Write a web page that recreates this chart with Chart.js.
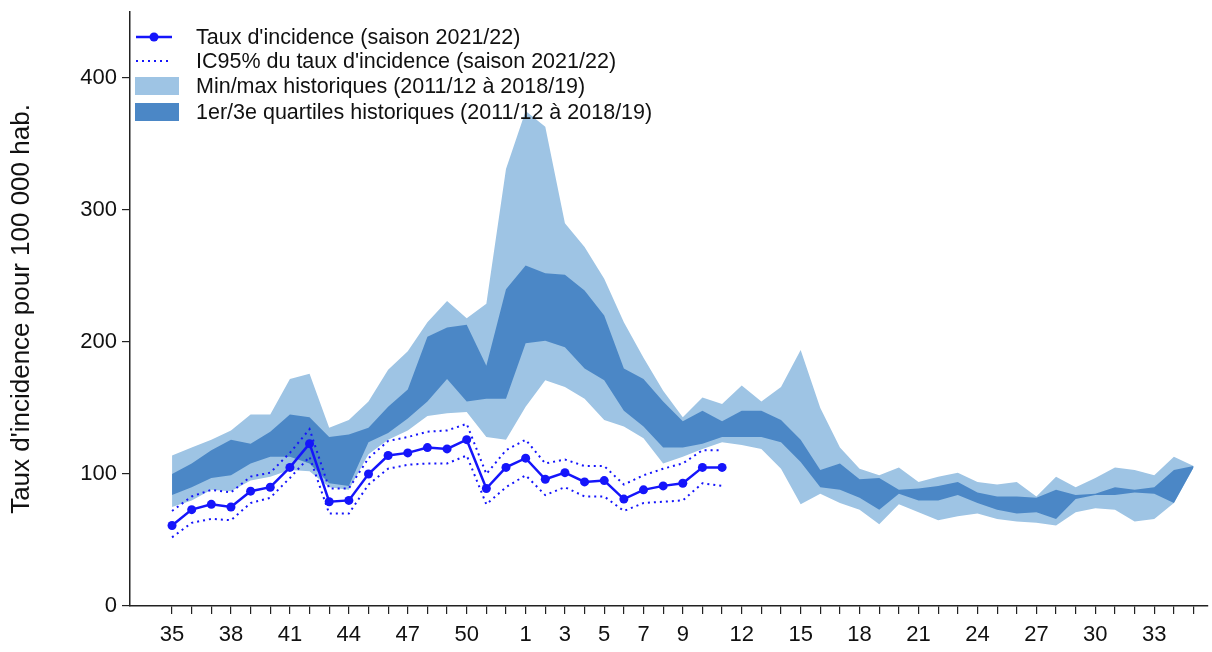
<!DOCTYPE html>
<html lang="fr">
<head>
<meta charset="utf-8">
<title>Taux d'incidence</title>
<script src="https://cdn.jsdelivr.net/npm/chart.js@4.4.1/dist/chart.umd.min.js"></script>
<style>
    html, body { margin: 0; padding: 0; background: #fff; }
    #wrap { width: 1212px; height: 652px; }
</style>
</head>
<body>
<div id="wrap"><canvas id="myChart" width="1212" height="652"></canvas></div>
<script>
// semaines de la saison (35 -> 35)
var weeks = [35, 36, 37, 38, 39, 40, 41, 42, 43, 44, 45, 46, 47, 48, 49, 50, 51, 52,
    1, 2, 3, 4, 5, 6, 7, 8, 9, 10, 11, 12, 13, 14, 15, 16, 17, 18, 19, 20, 21, 22,
    23, 24, 25, 26, 27, 28, 29, 30, 31, 32, 33, 34, 35];
var tickWeeks = [35, 38, 41, 44, 47, 50, 1, 3, 5, 7, 9, 12, 15, 18, 21, 24, 27, 30, 33];
var yTicks = [0, 100, 200, 300, 400];

// saison 2021/22 (semaines 35 a 11)
var incidence = [61, 73, 77, 75, 87, 90, 105, 123, 79, 80, 100, 114, 116, 120, 119, 126, 89, 105,
    112, 96, 101, 94, 95, 81, 88, 91, 93, 105, 105];
var ic95High = [72, 83, 88, 86, 98, 101, 116, 134, 89, 89, 112, 125, 128, 132, 133, 138, 100, 118,
    126, 108, 111, 106, 106, 92, 99, 104, 108, 118, 118];
var ic95Low = [52, 63, 66, 65, 78, 82, 97, 113, 70, 70, 92, 104, 107, 108, 108, 114, 77, 90,
    99, 84, 90, 83, 83, 72, 78, 79, 80, 93, 91];

// historiques 2011/12 a 2018/19
var histMin = [75, 80, 88, 87, 95, 98, 103, 102, 90, 88, 115, 126, 133, 144, 146, 147, 128, 126,
    151, 171, 166, 157, 141, 136, 127, 108, 113, 119, 124, 122, 119, 104, 77, 85, 78, 73, 62, 77,
    71, 65, 68, 70, 66, 64, 63, 61, 71, 74, 73, 64, 66, 78, 105];
var histMax = [114, 120, 126, 133, 145, 145, 172, 176, 135, 141, 155, 179, 193, 215, 231, 218, 229, 331,
    375, 363, 290, 272, 248, 215, 188, 163, 143, 158, 153, 167, 155, 166, 194, 150, 120, 104, 99, 105,
    94, 98, 101, 94, 92, 94, 83, 98, 90, 97, 105, 103, 99, 113, 106];
var histQ1 = [84, 90, 97, 99, 108, 113, 113, 108, 93, 91, 124, 131, 142, 155, 172, 155, 157, 157,
    199, 201, 196, 180, 171, 148, 136, 120, 120, 123, 128, 128, 128, 124, 109, 90, 88, 82, 73, 85,
    80, 80, 84, 78, 73, 70, 71, 66, 81, 84, 84, 86, 85, 78, 105];
var histQ3 = [100, 108, 118, 126, 123, 132, 145, 143, 128, 130, 135, 151, 164, 204, 211, 213, 182, 240,
    258, 252, 251, 239, 220, 180, 172, 155, 140, 148, 140, 148, 148, 141, 126, 103, 108, 96, 97, 88,
    89, 91, 94, 86, 83, 83, 82, 88, 84, 85, 90, 88, 90, 103, 106];

var legendLabels = [
    "Taux d'incidence (saison 2021/22)",
    "IC95% du taux d'incidence (saison 2021/22)",
    "Min/max historiques (2011/12 à 2018/19)",
    "1er/3e quartiles historiques (2011/12 à 2018/19)"
];

var FONT = "'Liberation Sans', Arial, Helvetica, sans-serif";
var lineBlue = '#1515fb';
var lightBand = '#9ec4e4';
var darkBand = '#4b87c6';

function toPoints(arr) {
    return arr.map(function (v, i) { return { x: i, y: v }; });
}

// index des semaines etiquetees sur l'axe
var labelIdx = [];
var from = 0;
tickWeeks.forEach(function (w) {
    var k = weeks.indexOf(w, from);
    labelIdx.push(k);
    from = k + 1;
});

// legende dessinee en haut a gauche
var legendPlugin = {
    id: 'customLegend',
    afterDraw: function (chart) {
        var ctx = chart.ctx;
        var rows = [37, 61, 86, 112];
        ctx.save();
        ctx.font = '21.5px ' + FONT;
        ctx.textBaseline = 'middle';
        legendLabels.forEach(function (txt, i) {
            var y = rows[i];
            if (i === 0) {
                ctx.strokeStyle = lineBlue;
                ctx.lineWidth = 2.5;
                ctx.beginPath(); ctx.moveTo(136, y); ctx.lineTo(172, y); ctx.stroke();
                ctx.fillStyle = lineBlue;
                ctx.beginPath(); ctx.arc(154, y, 4.5, 0, Math.PI * 2); ctx.fill();
            } else if (i === 1) {
                ctx.strokeStyle = lineBlue;
                ctx.lineWidth = 1.8;
                ctx.setLineDash([2, 4]);
                ctx.beginPath(); ctx.moveTo(136, y); ctx.lineTo(172, y); ctx.stroke();
                ctx.setLineDash([]);
            } else {
                ctx.fillStyle = i === 2 ? lightBand : darkBand;
                ctx.fillRect(135, y - 9, 44, 18);
            }
            ctx.fillStyle = '#111';
            ctx.fillText(txt, 196, y + 1);
        });
        ctx.restore();
    }
};

var ctx = document.getElementById('myChart').getContext('2d');
var myChart = new Chart(ctx, {
    type: 'line',
    data: {
        datasets: [
            {
                label: legendLabels[0],
                data: toPoints(incidence),
                borderColor: lineBlue,
                backgroundColor: lineBlue,
                borderWidth: 2.5,
                pointRadius: 4.5,
                pointBorderWidth: 0,
                fill: false
            },
            {
                label: 'IC95 haut',
                data: toPoints(ic95High),
                borderColor: lineBlue,
                borderWidth: 2,
                borderDash: [2, 4],
                pointRadius: 0,
                fill: false
            },
            {
                label: 'IC95 bas',
                data: toPoints(ic95Low),
                borderColor: lineBlue,
                borderWidth: 2,
                borderDash: [2, 4],
                pointRadius: 0,
                fill: false
            },
            {
                label: 'Q3',
                data: toPoints(histQ3),
                borderWidth: 0,
                borderColor: 'rgba(0,0,0,0)',
                backgroundColor: darkBand,
                pointRadius: 0,
                fill: 4
            },
            {
                label: 'Q1',
                data: toPoints(histQ1),
                borderWidth: 0,
                borderColor: 'rgba(0,0,0,0)',
                pointRadius: 0,
                fill: false
            },
            {
                label: 'Max',
                data: toPoints(histMax),
                borderWidth: 0,
                borderColor: 'rgba(0,0,0,0)',
                backgroundColor: lightBand,
                pointRadius: 0,
                fill: 6
            },
            {
                label: 'Min',
                data: toPoints(histMin),
                borderWidth: 0,
                borderColor: 'rgba(0,0,0,0)',
                pointRadius: 0,
                fill: false
            }
        ]
    },
    options: {
        responsive: false,
        animation: false,
        devicePixelRatio: 1,
        layout: { padding: { top: 12, right: 0, bottom: 0, left: 0 } },
        elements: { line: { tension: 0 } },
        plugins: {
            legend: { display: false },
            tooltip: { enabled: false }
        },
        scales: {
            x: {
                type: 'linear',
                min: -2.14,
                max: 52.71,
                afterBuildTicks: function (scale) {
                    scale.ticks = weeks.map(function (w, i) { return { value: i }; });
                },
                afterFit: function (scale) { scale.height = 46; },
                grid: { display: true, drawOnChartArea: false, drawTicks: true, tickLength: 8, color: '#222', lineWidth: 1.2 },
                border: { display: true, color: '#222', width: 1.5 },
                ticks: {
                    autoSkip: false,
                    maxRotation: 0,
                    padding: 8,
                    color: '#111',
                    font: { family: FONT, size: 22 },
                    callback: function (value) {
                        return labelIdx.indexOf(value) >= 0 ? String(weeks[value]) : '';
                    }
                }
            },
            y: {
                min: 0,
                max: 450,
                afterBuildTicks: function (scale) {
                    scale.ticks = yTicks.map(function (v) { return { value: v }; });
                },
                afterFit: function (scale) {
                    scale.width = 130;
                    scale.paddingTop = 0;
                    scale.paddingBottom = 0;
                },
                grid: { display: true, drawOnChartArea: false, drawTicks: true, tickLength: 8, color: '#222', lineWidth: 1.2 },
                border: { display: true, color: '#222', width: 1.5 },
                ticks: {
                    padding: 5,
                    color: '#111',
                    font: { family: FONT, size: 22 }
                },
                title: {
                    display: true,
                    text: "Taux d'incidence pour 100 000 hab.",
                    color: '#111',
                    font: { family: FONT, size: 26 },
                    padding: { top: 6, bottom: 0 }
                }
            }
        }
    },
    plugins: [legendPlugin]
});
</script>
</body>
</html>
